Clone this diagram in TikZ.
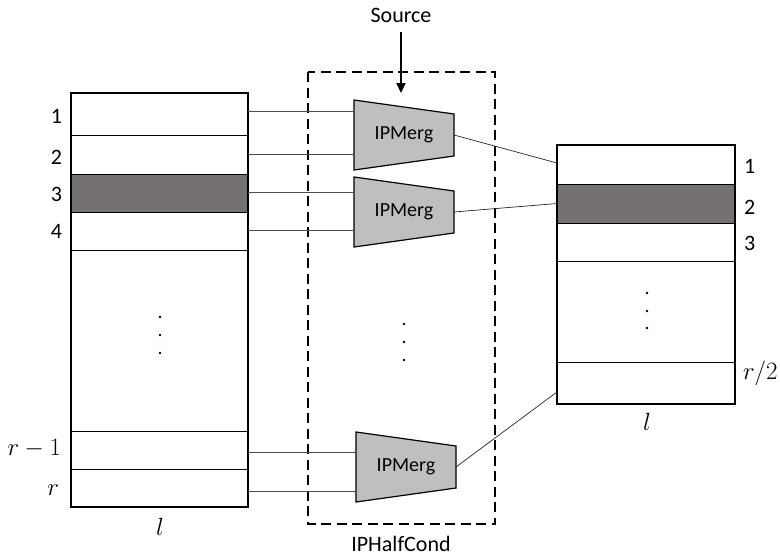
\documentclass[tikz,border=0pt]{standalone}
\usepackage{fontspec}
\setmainfont{Carlito}
\usetikzlibrary{calc,arrows.meta}
\definecolor{shade}{HTML}{767171}
\definecolor{trapfill}{HTML}{BFBFBF}
\begin{document}
\begin{tikzpicture}[x=1pt,y=-1pt,
  every node/.style={inner sep=0pt,outer sep=0pt},
  txt/.style={font=\fontsize{22}{26}\selectfont},
  mathtxt/.style={font=\fontsize{25}{29}\selectfont},
  mtxt/.style={font=\fontsize{20}{24}\selectfont},
  lrow/.style={draw=black,line width=0.9pt,minimum width=177pt,anchor=north west},
  rrow/.style={draw=black,line width=0.9pt,minimum width=178pt,anchor=north west},
  dark/.style={fill=shade},
  outer/.style={draw=black,line width=1.7pt},
  conn/.style={draw=black!70,line width=0.8pt},
  outc/.style={draw=black!85,line width=0.7pt},
  trap/.style={draw=black,line width=1.2pt,fill=trapfill},
  dbox/.style={draw=black,line width=2.2pt,dash pattern=on 10pt off 5.5pt},
  dotc/.style={fill=black,circle,minimum size=2.8pt},
  arr/.style={draw=black,line width=2pt,-{Triangle[length=10pt,width=9pt]}}
]
\useasboundingbox (0,0) rectangle (780,560);

% ---------- left table ----------
\node[lrow,minimum height=42pt] (l1) at (71,93) {};
\node[lrow,minimum height=39pt] (l2) at (71,135) {};
\node[lrow,dark,minimum height=38pt] (l3) at (71,174) {};
\node[lrow,minimum height=38pt] (l4) at (71,212) {};
\node[lrow,minimum height=181pt] (lm) at (71,250) {};
\node[lrow,minimum height=38pt] (lr1) at (71,431) {};
\node[lrow,minimum height=38pt] (lr) at (71,469) {};
\draw[outer] (l1.north west) rectangle (lr.south east);

\node[txt,anchor=east] (t1) at (62,116) {1};
\node[txt,anchor=east] (t2) at (62,157) {2};
\node[txt,anchor=east] (t3) at (62,194) {3};
\node[txt,anchor=east] (t4) at (62,231) {4};
\node[mathtxt,anchor=east] (tr1) at (61,449) {$r-1$};
\node[mathtxt,anchor=east] (tr) at (59,490) {$r$};
\node[mathtxt] (tl) at (160,527) {$l$};

\node[dotc] (ld1) at (160,317) {};
\node[dotc] (ld2) at (160,335) {};
\node[dotc] (ld3) at (160,353) {};

% ---------- dashed box ----------
\draw[dbox] (308,72) rectangle (495,524);
\node[txt] (src) at (401,15) {Source};
\coordinate (srcend) at (401,93);
\draw[arr] (401,32) -- (srcend);
\node[txt] (half) at (401,544) {IPHalfCond};

% ---------- mergers ----------
\newcommand\mergbox[2]{%
  \coordinate (#1) at #2;
  \draw[trap] ($(#1)+(-50,-35)$) -- ($(#1)+(50,-21)$) -- ($(#1)+(50,21)$) -- ($(#1)+(-50,35)$) -- cycle;
  \node[mtxt] (#1-t) at (#1) {IPMerg};
  \coordinate (#1-in) at ($(#1)+(-50,0)$);
  \coordinate (#1-out) at ($(#1)+(50,0)$);
}
\mergbox{m1}{(404,135)}
\mergbox{m2}{(404,212)}
\mergbox{m3}{(406,467)}

\node[dotc] (md1) at (404,324) {};
\node[dotc] (md2) at (404,342) {};
\node[dotc] (md3) at (404,360) {};

% ---------- left connectors ----------
\draw[conn] ([yshift=3pt]l1.east) -- ([yshift=3pt]l1.east -| m1-in);
\draw[conn] (l2.east) -- (l2.east -| m1-in);
\draw[conn] ([yshift=1pt]l3.east) -- ([yshift=1pt]l3.east -| m2-in);
\draw[conn] ([yshift=1pt]l4.east) -- ([yshift=1pt]l4.east -| m2-in);
\draw[conn] ([yshift=-2pt]lr1.east) -- ([yshift=-2pt]lr1.east -| m3-in);
\draw[conn] ([yshift=-3pt]lr.east) -- ([yshift=-3pt]lr.east -| m3-in);

% ---------- right table ----------
\node[rrow,minimum height=39pt] (r1) at (557,145) {};
\node[rrow,dark,minimum height=39pt] (r2) at (557,184) {};
\node[rrow,minimum height=38pt] (r3) at (557,223) {};
\node[rrow,minimum height=101pt] (rm) at (557,261) {};
\node[rrow,minimum height=42pt] (rh) at (557,362) {};
\draw[outer] (r1.north west) rectangle (rh.south east);

\node[txt,anchor=west] (s1) at (744,166) {1};
\node[txt,anchor=west] (s2) at (744,207) {2};
\node[txt,anchor=west] (s3) at (744,243) {3};
\node[mathtxt,anchor=west] (sh) at (743,373) {$r/2$};
\node[mathtxt] (sl) at (647,422) {$l$};

\node[dotc] (rd1) at (647,293) {};
\node[dotc] (rd2) at (647,311) {};
\node[dotc] (rd3) at (647,328) {};

% ---------- output connectors ----------
\draw[outc] (m1-out) -- ([yshift=1.5pt]r1.west);
\draw[outc] (m2-out) -- (r2.west);
\draw[outc] (m3-out) -- ([yshift=-9pt]rh.west);
\end{tikzpicture}
\end{document}
